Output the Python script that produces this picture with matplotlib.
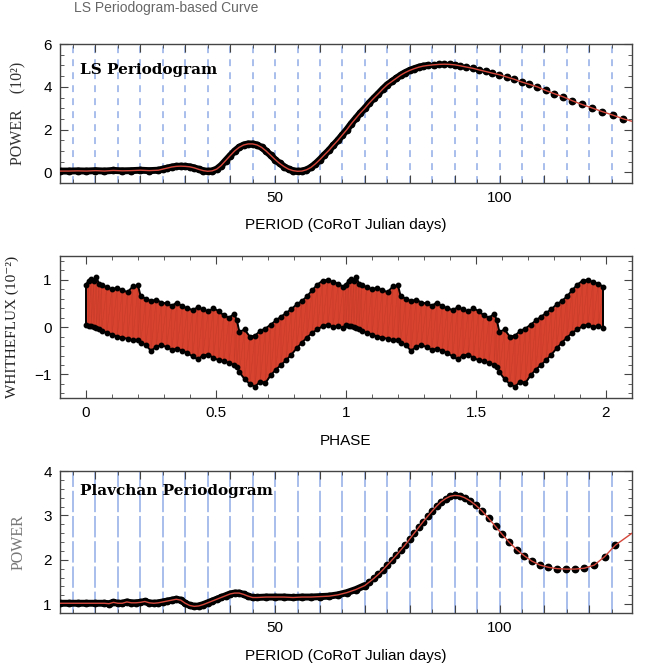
import numpy as np
import matplotlib
matplotlib.use('Agg')
import matplotlib.pyplot as plt
from matplotlib.ticker import MultipleLocator, FuncFormatter

plt.rcParams['font.family'] = ['Liberation Sans', 'DejaVu Sans']

# ---- LS periodogram (power in units of 10^2) ----
ls_period = [2, 4, 6, 8, 10, 12, 14, 16, 18, 20, 22, 24, 25, 26, 27, 28, 29, 30,
             31, 32, 33, 34, 35, 36, 37, 38, 39, 40, 41, 42, 43, 44, 45, 46, 47,
             48, 49, 50, 51, 52, 53, 54, 55, 56, 57, 58, 59, 60, 61, 62, 63, 64,
             65, 66, 67, 68, 69, 70, 71, 72, 73, 74, 75, 76, 77, 78, 79, 80, 81,
             82, 83, 84, 85.3, 86.5, 87.7, 88.9, 90.0, 91.1, 92.5, 94.0, 95.5,
             96.9, 98.4, 99.9, 101.6, 103.2, 104.9, 106.6, 108.4, 110.3, 112.2,
             114.2, 116.2, 118.3, 120.5, 122.9, 125.2, 127.6, 129.8]
ls_power = [0.06, 0.06, 0.07, 0.06, 0.08, 0.06, 0.09, 0.07, 0.08, 0.10, 0.08,
            0.10, 0.15, 0.20, 0.25, 0.28, 0.29, 0.28, 0.26, 0.21, 0.14, 0.08,
            0.05, 0.07, 0.15, 0.32, 0.55, 0.78, 1.00, 1.17, 1.28, 1.33, 1.33,
            1.28, 1.17, 1.00, 0.80, 0.60, 0.42, 0.27, 0.15, 0.08, 0.05, 0.06,
            0.12, 0.23, 0.40, 0.60, 0.82, 1.03, 1.27, 1.50, 1.75, 2.00, 2.28,
            2.53, 2.78, 3.00, 3.25, 3.47, 3.68, 3.90, 4.10, 4.25, 4.40, 4.55,
            4.67, 4.77, 4.85, 4.92, 4.97, 5.00, 5.03, 5.05, 5.06, 5.05, 5.03,
            4.99, 4.93, 4.87, 4.79, 4.72, 4.64, 4.57, 4.46, 4.36, 4.23, 4.12,
            4.00, 3.83, 3.68, 3.53, 3.35, 3.18, 3.02, 2.84, 2.68, 2.50, 2.37]

# ---- phased light curve, one cycle (repeated for phase 1-2) ----
phase = [0.0, 0.01, 0.02, 0.03, 0.04, 0.05, 0.06, 0.08, 0.10, 0.12, 0.14, 0.16,
         0.18, 0.20, 0.21, 0.23, 0.25, 0.27, 0.29, 0.31, 0.33, 0.35, 0.37, 0.39,
         0.41, 0.43, 0.45, 0.47, 0.49, 0.51, 0.53, 0.55, 0.57, 0.58, 0.59, 0.61,
         0.63, 0.65, 0.67, 0.69, 0.71, 0.73, 0.75, 0.77, 0.79, 0.81, 0.83, 0.85,
         0.87, 0.89, 0.91, 0.93, 0.95, 0.97, 0.99]
flux_upper = [0.90, 0.98, 1.02, 0.97, 1.05, 0.92, 0.88, 0.85, 0.80, 0.83, 0.78,
              0.74, 0.86, 0.88, 0.66, 0.60, 0.55, 0.58, 0.52, 0.50, 0.45, 0.52,
              0.44, 0.40, 0.36, 0.42, 0.38, 0.33, 0.40, 0.34, 0.25, 0.20, 0.28,
              0.15, -0.10, -0.05, -0.20, -0.18, -0.08, -0.03, 0.05, 0.14, 0.22,
              0.30, 0.38, 0.48, 0.55, 0.65, 0.78, 0.90, 0.98, 1.00, 0.95, 0.92,
              0.85]
flux_lower = [0.05, 0.03, 0.02, 0.0, -0.02, -0.05, -0.08, -0.12, -0.16, -0.20,
              -0.22, -0.25, -0.28, -0.28, -0.33, -0.38, -0.50, -0.42, -0.38,
              -0.42, -0.48, -0.46, -0.50, -0.55, -0.62, -0.68, -0.60, -0.58,
              -0.65, -0.70, -0.72, -0.76, -0.80, -0.85, -0.95, -1.10, -1.20,
              -1.26, -1.15, -1.18, -1.02, -0.90, -0.80, -0.70, -0.58, -0.45,
              -0.33, -0.22, -0.12, -0.05, 0.02, 0.05, 0.0, 0.02, -0.02]

# ---- Plavchan periodogram ----
pl_period = [2, 4, 6, 8, 10, 12, 13, 14, 15, 16, 17, 18, 19, 20, 21, 22, 23, 24,
             25, 26, 27, 28, 29, 30, 31, 32, 33, 34, 35, 36, 37, 38, 39, 40, 41,
             42, 43, 44, 45, 46, 48, 50, 52, 54, 56, 58, 60, 62, 64, 66, 68, 70,
             71, 72, 73, 74, 75, 76, 77, 78, 79, 80, 81, 82, 83, 84, 85, 86, 87,
             88, 89, 90, 91.1, 92.2, 93.4, 94.7, 96.1, 97.6, 99.1, 100.6, 102.2,
             103.8, 105.5, 107.2, 109.0, 110.9, 112.8, 114.8, 116.8, 118.9,
             121.1, 123.4, 125.8, 129.8]
pl_power = [1.02, 1.02, 1.02, 1.02, 1.02, 1.02, 1.01, 1.04, 1.02, 1.02, 1.05,
            1.03, 1.03, 1.04, 1.06, 1.03, 1.02, 1.03, 1.05, 1.07, 1.09, 1.11,
            1.09, 1.02, 0.97, 0.95, 0.96, 0.99, 1.03, 1.07, 1.11, 1.15, 1.19,
            1.23, 1.25, 1.25, 1.22, 1.18, 1.15, 1.15, 1.16, 1.16, 1.16, 1.15,
            1.16, 1.16, 1.17, 1.18, 1.21, 1.26, 1.33, 1.42, 1.50, 1.58, 1.67,
            1.77, 1.88, 1.99, 2.10, 2.22, 2.34, 2.47, 2.60, 2.73, 2.86, 2.98,
            3.10, 3.21, 3.31, 3.38, 3.43, 3.45, 3.44, 3.40, 3.33, 3.23, 3.10,
            2.93, 2.75, 2.57, 2.39, 2.23, 2.09, 1.97, 1.88, 1.83, 1.80, 1.79,
            1.79, 1.81, 1.88, 2.07, 2.33, 2.62]

RED = '#d4463a'
FILL = '#d8432f'
GRIDBLUE = '#86a3e4'
serif = ['Liberation Serif', 'DejaVu Serif']


def style_axis(ax):
    for s in ax.spines.values():
        s.set_color('#444444')
        s.set_linewidth(1.0)
    ax.tick_params(which='both', direction='in', top=True, right=True,
                   labelsize=11, color='#444444')
    ax.tick_params(which='major', length=6, pad=6)
    ax.tick_params(which='minor', length=3)


def period_ticks(ax):
    ax.set_xlim(2.1, 129.5)
    ax.xaxis.set_major_locator(MultipleLocator(10))
    ax.xaxis.set_minor_locator(MultipleLocator(5))
    ax.xaxis.set_major_formatter(FuncFormatter(
        lambda v, p: '%d' % v if int(round(v)) in (50, 100) else ''))


def period_grid(ax, dashes):
    # dashed blue line at every 5 days (all major and minor ticks)
    lo, hi = ax.get_xlim()
    for x in MultipleLocator(5).tick_values(lo, hi):
        if lo < x < hi:
            ax.axvline(x, color=GRIDBLUE, lw=1.1, alpha=0.9,
                       linestyle=(0, dashes), zorder=0.5)


def draw_periodogram(ax, per, pw, dense_max):
    per = np.array(per)
    pw = np.array(pw)
    dense = per <= dense_max
    ax.plot(per[dense], pw[dense], color='black', lw=5, solid_capstyle='round',
            zorder=2)
    ax.plot(per[:-1], pw[:-1], 'o', color='black', ms=4.6, zorder=3)
    ax.plot(per, pw, color=RED, lw=1.0, zorder=4)


fig = plt.figure(figsize=(6.5, 6.68), dpi=100)

fig.text(0.255, 1 - 1.0 / 668, 'LS Periodogram-based Curve', ha='center',
         va='top', fontsize=10, color='#666666')

# top: LS periodogram
ax1 = fig.add_axes([0.0923, 0.726, 0.88, 0.208])
draw_periodogram(ax1, ls_period, ls_power, 84)
period_ticks(ax1)
ax1.set_ylim(-0.5, 6)
ax1.yaxis.set_major_locator(MultipleLocator(2))
ax1.yaxis.set_minor_locator(MultipleLocator(0.5))
style_axis(ax1)
period_grid(ax1, (4.5, 4))
ax1.text(0.035, 0.81, 'LS Periodogram', transform=ax1.transAxes,
         fontfamily='DejaVu Serif', fontweight='bold', fontsize=11,
         va='center')
ax1.set_xlabel('PERIOD (CoRoT Julian days)', fontsize=11)
ax1.xaxis.set_label_coords(0.5, -0.25)
ax1.set_ylabel('POWER    (10²)', family=serif, fontsize=11.5,
               color='#333333')
ax1.yaxis.set_label_coords(-0.058, 0.5)

# middle: phased light curve
ph = np.array(phase)
up = np.array(flux_upper)
lo = np.array(flux_lower)
ph_all = np.concatenate([ph, ph + 1])
up_all = np.concatenate([up, up])
lo_all = np.concatenate([lo, lo])

ax2 = fig.add_axes([0.0923, 0.404, 0.88, 0.2126])
ax2.fill_between(ph_all, lo_all, up_all, color=FILL, lw=0, zorder=2)
zz_x = np.ravel(np.column_stack([ph_all, ph_all]))
zz_y = np.ravel(np.column_stack([up_all, lo_all]))
ax2.plot(zz_x, zz_y, color='#7a1a10', lw=0.4, alpha=0.2, zorder=3)
ax2.plot(ph_all, up_all, color='black', lw=1.4, zorder=4)
ax2.plot(ph_all, lo_all, color='black', lw=1.4, zorder=4)
ax2.vlines([ph_all[0], ph_all[-1]], [lo_all[0], lo_all[-1]],
           [up_all[0], up_all[-1]], color='black', lw=1.4, zorder=4)
ax2.plot(ph_all, up_all, 'o', color='black', ms=3.2, zorder=5)
ax2.plot(ph_all, lo_all, 'o', color='black', ms=3.2, zorder=5)
ax2.set_xlim(-0.1, 2.1)
ax2.set_ylim(-1.5, 1.5)
ax2.xaxis.set_major_locator(MultipleLocator(0.5))
ax2.xaxis.set_minor_locator(MultipleLocator(0.1))
ax2.xaxis.set_major_formatter(FuncFormatter(lambda v, p: '%g' % v))
ax2.yaxis.set_major_locator(MultipleLocator(1))
ax2.yaxis.set_minor_locator(MultipleLocator(0.2))
style_axis(ax2)
ax2.set_xlabel('PHASE', fontsize=11)
ax2.xaxis.set_label_coords(0.5, -0.25)
ax2.set_ylabel('WHITHEFLUX (10⁻²)', family=serif, fontsize=11,
               color='#222222')
ax2.yaxis.set_label_coords(-0.072, 0.5)

# bottom: Plavchan periodogram
ax3 = fig.add_axes([0.0923, 0.0823, 0.88, 0.2126])
draw_periodogram(ax3, pl_period, pl_power, 70)
period_ticks(ax3)
ax3.set_ylim(0.8, 4.0)
ax3.yaxis.set_major_locator(MultipleLocator(1))
ax3.yaxis.set_minor_locator(MultipleLocator(0.2))
style_axis(ax3)
period_grid(ax3, (14, 2.5))
ax3.text(0.035, 0.86, 'Plavchan Periodogram', transform=ax3.transAxes,
         fontfamily='DejaVu Serif', fontweight='bold', fontsize=11,
         va='center')
ax3.set_xlabel('PERIOD (CoRoT Julian days)', fontsize=11)
ax3.xaxis.set_label_coords(0.5, -0.25)
ax3.set_ylabel('POWER', family=serif, fontsize=11.5, color='#777777')
ax3.yaxis.set_label_coords(-0.058, 0.5)

fig.savefig('out.png', dpi=100)
